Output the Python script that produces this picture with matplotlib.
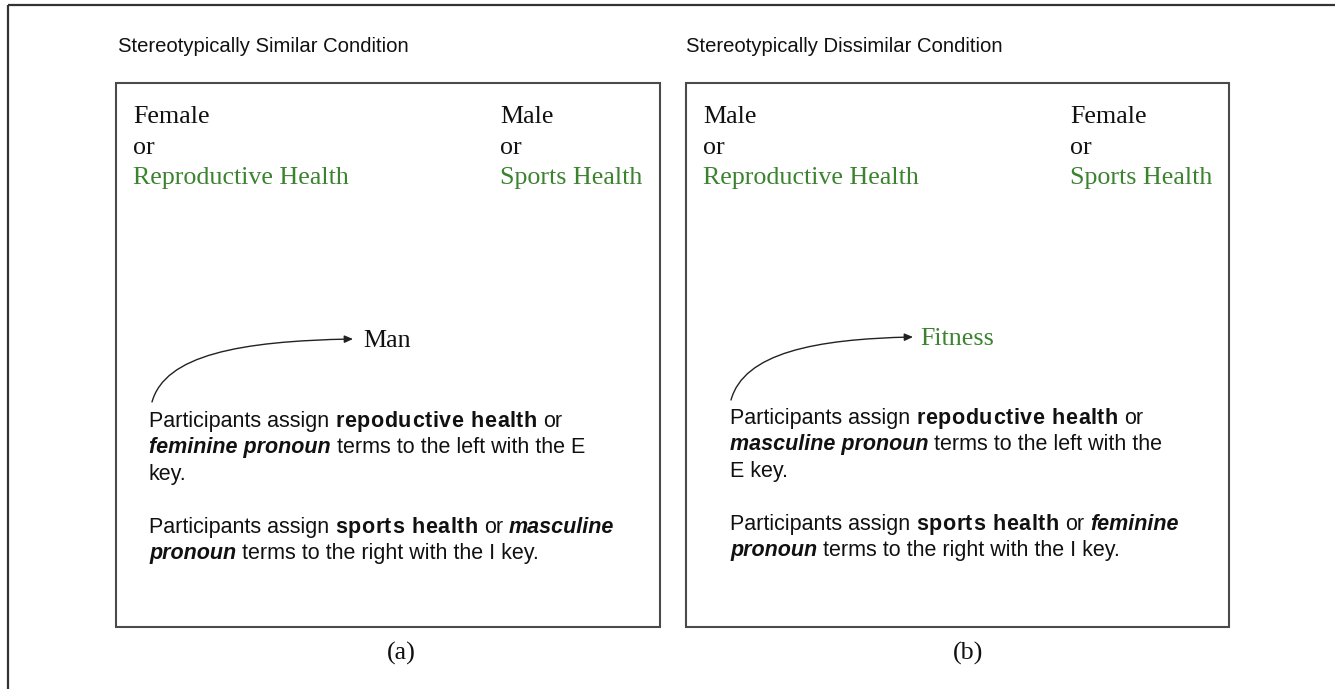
import matplotlib
matplotlib.use("Agg")
import matplotlib.pyplot as plt
from matplotlib.patches import Rectangle, FancyArrowPatch
from matplotlib.path import Path

# ---------------- content ----------------
titles = ["Stereotypically Similar Condition", "Stereotypically Dissimilar Condition"]
captions = ["(a)", "(b)"]
left_labels = [["Female", "or", "Reproductive Health"], ["Male", "or", "Reproductive Health"]]
right_labels = [["Male", "or", "Sports Health"], ["Female", "or", "Sports Health"]]
label_green = [False, False, True]
stimuli = ["Man", "Fitness"]
stimulus_green = [False, True]

# paragraph lines: (text, style) segments; style n=normal, b=bold, bi=bold italic
para_a = [
    [("Participants assign ", "n"), ("repoductive health", "b"), (" or", "n")],
    [("feminine pronoun", "bi"), (" terms to the left with the E", "n")],
    [("key.", "n")],
    None,
    [("Participants assign ", "n"), ("sports health", "b"), (" or ", "n"), ("masculine", "bi")],
    [("pronoun", "bi"), (" terms to the right with the I key.", "n")],
]
para_b = [
    [("Participants assign ", "n"), ("repoductive health", "b"), (" or", "n")],
    [("masculine pronoun", "bi"), (" terms to the left with the", "n")],
    [("E key.", "n")],
    None,
    [("Participants assign ", "n"), ("sports health", "b"), (" or ", "n"), ("feminine", "bi")],
    [("pronoun", "bi"), (" terms to the right with the I key.", "n")],
]
paragraphs = [para_a, para_b]

# ---------------- layout (pixels) ----------------
W, H = 1335, 689
GREEN = "#3b832f"
SANS = "Liberation Sans"
SERIF = "Liberation Serif"

fig = plt.figure(figsize=(W / 100, H / 100), dpi=100)
ax = fig.add_axes([0, 0, 1, 1])
ax.set_xlim(0, W)
ax.set_ylim(H, 0)
ax.axis("off")
renderer = fig.canvas.get_renderer()

# outer frame (top and left)
ax.plot([8, W], [5, 5], color="#333333", lw=1.6, solid_capstyle="butt")
ax.plot([8, 8], [5, H], color="#333333", lw=1.6, solid_capstyle="butt")

boxes = [(116, 83, 660, 627), (686, 83, 1229, 627)]
title_x = [118, 686]
para_x = [149, 730]
para_y0 = [427, 424]
right_x = [500, 1070]
stim_x = [363, 920]
stim_y = [341, 339]
caption_x = [401, 968]
arrows = [((152, 402), (165, 355), (240, 341), (353, 339)),
          ((731, 400), (744, 353), (815, 339), (913, 337))]

styles = {"n": dict(fontweight="normal", fontstyle="normal"),
          "b": dict(fontweight="bold", fontstyle="normal"),
          "bi": dict(fontweight="bold", fontstyle="italic")}
tracking = {"n": 0.0, "b": 0.6, "bi": 0.0}
PSIZE = 15.5
LINE = 26.4
SERIF_SIZE = 18.7


def width_of(t):
    bb = t.get_window_extent(renderer)
    inv = ax.transData.inverted()
    (x0, _), (x1, _) = inv.transform([[bb.x0, bb.y0], [bb.x1, bb.y1]])
    return abs(x1 - x0)


def measure(s, st):
    t = ax.text(0, 0, s, fontsize=PSIZE, family=SANS, **styles[st])
    w = width_of(t)
    t.remove()
    return w


space_w = {k: measure("x x", k) - measure("xx", k) for k in styles}
bar_w = {k: measure("||", k) for k in styles}


def draw_line(x, y, segs):
    cur = x
    for text, st in segs:
        lead = len(text) - len(text.lstrip(" "))
        trail = len(text) - len(text.rstrip(" "))
        core = text.strip(" ")
        cur += lead * space_w[st]
        kw = dict(fontsize=PSIZE, family=SANS, color="#111111",
                  ha="left", va="baseline", **styles[st])
        if tracking[st] == 0:
            t = ax.text(cur, y, core, **kw)
            cur += width_of(t)
        else:
            # letter-spaced segment: place each glyph at its advance plus tracking
            for k, ch in enumerate(core):
                if ch == " ":
                    continue
                adv = measure("|" + core[:k] + "|", st) - bar_w[st] if k else 0.0
                ax.text(cur + adv + k * tracking[st], y, ch, **kw)
            cur += measure(core, st) + (len(core) - 1) * tracking[st]
        cur += trail * space_w[st]


for i in range(2):
    x0, y0, x1, y1 = boxes[i]
    ax.add_patch(Rectangle((x0, y0), x1 - x0, y1 - y0, fill=False,
                           edgecolor="#4a4a4a", lw=1.5))
    ax.text(title_x[i], 47, titles[i], fontsize=14.6, family=SANS,
            color="#111111", ha="left", va="center")
    for j in range(3):
        col = GREEN if label_green[j] else "#111111"
        ax.text(x0 + 17, 117 + 30.5 * j, left_labels[i][j], fontsize=SERIF_SIZE,
                family=SERIF, color=col, ha="left", va="center")
        ax.text(right_x[i], 117 + 30.5 * j, right_labels[i][j], fontsize=SERIF_SIZE,
                family=SERIF, color=col, ha="left", va="center")
    ax.text(stim_x[i], stim_y[i], stimuli[i], fontsize=SERIF_SIZE, family=SERIF,
            color=GREEN if stimulus_green[i] else "#111111", ha="left", va="center")
    p0, p1, p2, p3 = arrows[i]
    path = Path([p0, p1, p2, p3], [Path.MOVETO, Path.CURVE4, Path.CURVE4, Path.CURVE4])
    ax.add_patch(FancyArrowPatch(path=path, arrowstyle="-|>,head_length=5,head_width=2.2",
                                 color="#222222", lw=1.0))
    y = para_y0[i]
    for line in paragraphs[i]:
        if line is not None:
            draw_line(para_x[i], y, line)
        y += LINE
    ax.text(caption_x[i], 653, captions[i], fontsize=SERIF_SIZE, family=SERIF,
            color="#111111", ha="center", va="center")

fig.savefig("out.png", dpi=100)
